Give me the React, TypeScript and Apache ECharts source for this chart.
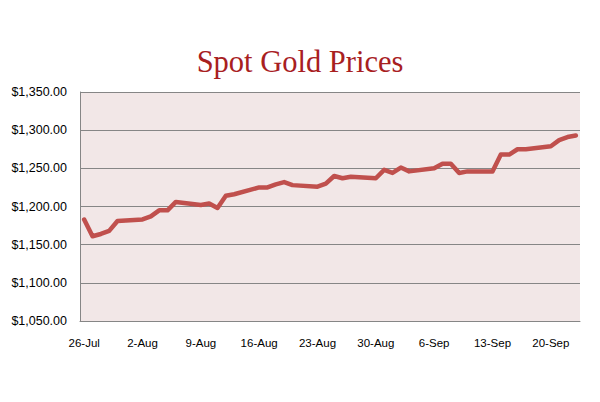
import React, { useEffect, useRef } from "react";
import * as echarts from "echarts";

// Calendar days from 26-Jul to 23-Sep (one category per day)
const startDate = new Date(2010, 6, 26);
const dayCount = 60;
const categories: string[] = [];
const monthNames = ["Jan","Feb","Mar","Apr","May","Jun","Jul","Aug","Sep","Oct","Nov","Dec"];
for (let i = 0; i < dayCount; i++) {
  const d = new Date(startDate.getTime() + i * 86400000);
  categories.push(d.getDate() + "-" + monthNames[d.getMonth()]);
}

// Spot gold prices (trading days only)
const priceByDate: Record<string, number> = {
  "26-Jul": 1183, "27-Jul": 1161, "28-Jul": 1164, "29-Jul": 1168, "30-Jul": 1181,
  "2-Aug": 1183, "3-Aug": 1187, "4-Aug": 1195, "5-Aug": 1195, "6-Aug": 1206,
  "9-Aug": 1202, "10-Aug": 1204, "11-Aug": 1198, "12-Aug": 1214, "13-Aug": 1216,
  "16-Aug": 1225, "17-Aug": 1225, "18-Aug": 1229, "19-Aug": 1232, "20-Aug": 1228,
  "23-Aug": 1226, "24-Aug": 1230, "25-Aug": 1240, "26-Aug": 1237, "27-Aug": 1239,
  "30-Aug": 1237, "31-Aug": 1248, "1-Sep": 1244, "2-Sep": 1251, "3-Sep": 1246,
  "6-Sep": 1250, "7-Sep": 1256, "8-Sep": 1256, "9-Sep": 1244, "10-Sep": 1246,
  "13-Sep": 1246, "14-Sep": 1268, "15-Sep": 1268, "16-Sep": 1275, "17-Sep": 1275,
  "20-Sep": 1279, "21-Sep": 1287, "22-Sep": 1291, "23-Sep": 1293,
};

const yMin = 1050;
const yMax = 1350;
const yStep = 50;

export default function App() {
  const ref = useRef<HTMLDivElement>(null);
  useEffect(() => {
    if (!ref.current) return;
    const chart = echarts.init(ref.current, null, { renderer: "svg" });
    const values = categories.map((c) => (c in priceByDate ? priceByDate[c] : null));
    chart.setOption({
      animation: false,
      backgroundColor: "#ffffff",
      title: {
        text: "Spot Gold Prices",
        left: "center",
        top: 41,
        textStyle: {
          fontFamily: "Liberation Serif, serif",
          fontSize: 30.5,
          fontWeight: "normal",
          color: "#A8201F",
        },
      },
      grid: {
        left: 80,
        right: 20,
        top: 92,
        bottom: 81,
        show: true,
        backgroundColor: "#F2E7E7",
        borderWidth: 0,
      },
      xAxis: {
        type: "category",
        data: categories,
        boundaryGap: true,
        axisLine: { show: true, lineStyle: { color: "#868686", width: 1 } },
        axisTick: { show: false },
        axisLabel: {
          interval: 6,
          color: "#000000",
          fontFamily: "Liberation Sans, Arial, sans-serif",
          fontSize: 11.5,
          margin: 16,
        },
        splitLine: { show: false },
      },
      yAxis: {
        type: "value",
        min: yMin,
        max: yMax,
        interval: yStep,
        axisLine: { show: true, lineStyle: { color: "#868686", width: 1 } },
        axisTick: { show: false },
        axisLabel: {
          color: "#000000",
          fontFamily: "Liberation Sans, Arial, sans-serif",
          fontSize: 12.5,
          margin: 13,
          formatter: (v: number) =>
            "$" + v.toLocaleString("en-US", { minimumFractionDigits: 2, maximumFractionDigits: 2 }),
        },
        splitLine: { show: true, lineStyle: { color: "#868686", width: 1 } },
      },
      series: [
        {
          type: "line",
          data: values,
          connectNulls: true,
          symbol: "none",
          lineStyle: { color: "#C0504D", width: 4.5, join: "round", cap: "round" },
        },
      ],
    });
    return () => chart.dispose();
  }, []);
  return <div ref={ref} style={{ width: 600, height: 402, position: "absolute", left: 0, top: 0 }} />;
}
